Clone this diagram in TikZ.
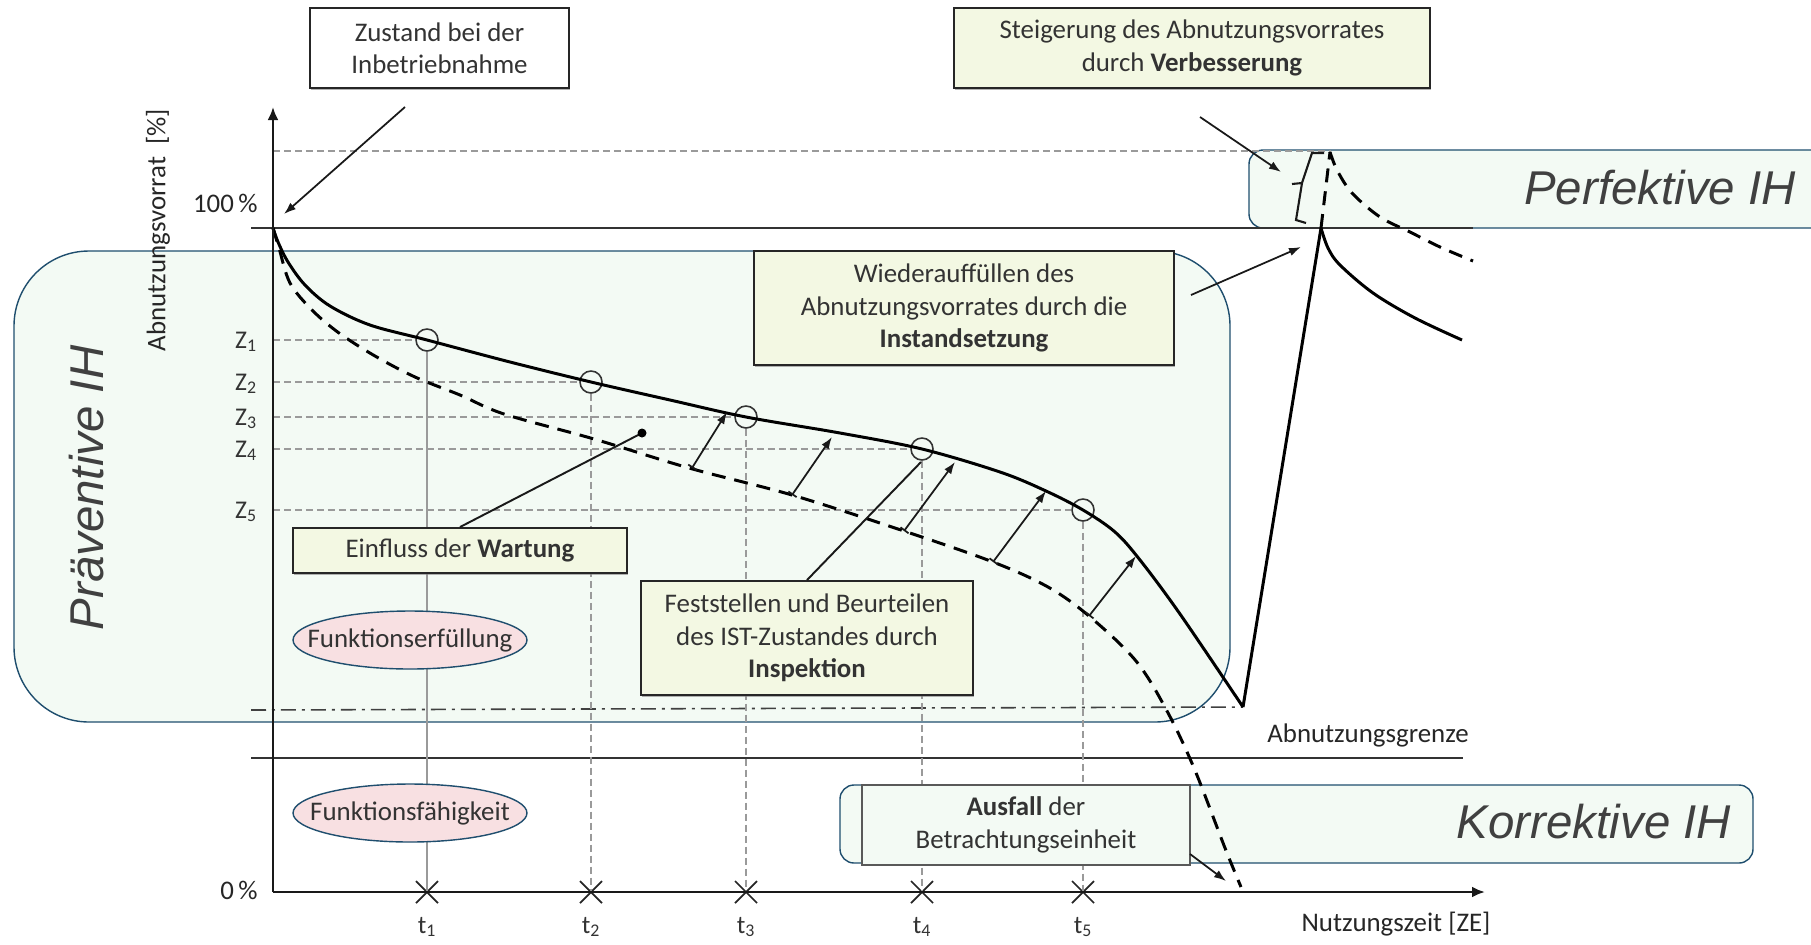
\documentclass[tikz,border=0pt]{standalone}
\usepackage{fontspec}
\setmainfont{Carlito}
\newfontfamily\ihfont{Liberation Sans}
\usetikzlibrary{arrows.meta,shapes.geometric,shadows,calc}
\definecolor{bgGreen}{HTML}{F3FAF4}
\definecolor{ihBorder}{HTML}{1F4E6E}
\definecolor{boxFill}{HTML}{F3F8E3}
\definecolor{pinkFill}{HTML}{F8E0E2}
\definecolor{txt}{HTML}{333333}
\definecolor{ihText}{HTML}{404040}
\definecolor{gridGray}{HTML}{9A9A9A}
\tikzset{
  ihbox/.style={draw=ihBorder, line width=0.8pt, fill=bgGreen},
  plainbox/.style={rectangle, draw=black!85, line width=1.1pt, text=txt, align=center,
    font=\fontsize{15.3}{18.4}\selectfont, inner sep=0pt},
  ybox/.style={plainbox, fill=boxFill,
    drop shadow={shadow xshift=0.6pt, shadow yshift=-1.2pt, opacity=0.6}},
  wbox/.style={ybox, fill=white},
  gbox/.style={plainbox, fill=bgGreen, draw=black!65, line width=1pt},
  ell/.style={ellipse, draw=ihBorder, line width=0.8pt, fill=pinkFill, minimum width=4.68cm,
    minimum height=1.16cm, inner xsep=-0.6cm, inner ysep=0pt, font=\fontsize{15.3}{18}\selectfont, text=txt},
  gridline/.style={gridGray, line width=0.8pt, dash pattern=on 1.4mm off 0.8mm},
  tline/.style={gridGray, line width=0.8pt},
  curve/.style={line width=1.7pt, black},
  dcurve/.style={curve, dash pattern=on 2.8mm off 1.8mm},
  arr/.style={line width=1pt, black!90, -{Latex[length=2.4mm,width=1.7mm]}},
  insp/.style={line width=1pt, black!90, {Bar[width=2mm]}-{Latex[length=2.4mm,width=1.7mm]}},
  lbl/.style={font=\fontsize{15.3}{18}\selectfont, text=black!85, inner sep=0pt},
  sublbl/.style={font=\fontsize{14.5}{16}\selectfont, text=black!80, inner sep=0pt},
  ih/.style={font=\ihfont\itshape\fontsize{27}{30}\selectfont, text=ihText, inner sep=0pt},
  insppt/.style={circle, draw=black!80, line width=0.9pt, minimum size=0.44cm, inner sep=0pt},
}
\begin{document}
\begin{tikzpicture}[x=0.02cm, y=-0.02cm]
\useasboundingbox (0,0) rectangle (1811,944);

% IH regions
\draw[ihbox, rounded corners=1.5cm] (14,251) rectangle (1230,722);
\draw[ihbox, rounded corners=0.28cm] (1249,150) rectangle (1850,228);
\draw[ihbox, rounded corners=0.28cm] (840,785) rectangle (1753,863);
\node[ih, rotate=90] (prae) at (87,488) {Präventive IH};
\node[ih, anchor=base] (perf) at (1660,204) {Perfektive IH};
\node[ih, anchor=base] (korr) at (1594,838) {Korrektive IH};

% key coordinates
\coordinate (O) at (273,228);
\coordinate (V) at (1243,707);
\coordinate (P) at (1321,228);
\coordinate (Ptop) at (1330,152);

% reference lines
\draw[gridline] (273,151) -- (1331,151);
\draw[line width=1.1pt, black!80] (251,228) -- (1473,228);
\draw[line width=1.1pt, black!80] (251,758) -- (1463,758);
\draw[line width=0.9pt, black!75, dash pattern=on 3mm off 1.2mm on 0.6mm off 1.2mm] (251,710) -- (V);

% inspection points, Z levels, t verticals
\foreach \i/\xx/\yy in {1/427/340, 2/591/382, 3/746/417, 4/922/449, 5/1083/510} {
  \node[insppt] (c\i) at (\xx,\yy) {};
  \coordinate (t\i) at (\xx,892);
  \coordinate (z\i) at (273,\yy);
  \draw[gridline] (z\i) -- (c\i.west);
  \node[sublbl, anchor=base] (zl\i) at (246,\yy+8) {Z\textsubscript{\i}};
  \node[sublbl, anchor=base] (tl\i) at (\xx,933) {t\textsubscript{\i}};
  \draw[line width=1pt, black!85] ($(t\i)+(-11,-11)$) -- ($(t\i)+(11,11)$) ($(t\i)+(-11,11)$) -- ($(t\i)+(11,-11)$);
}
\draw[tline] (c1.south) -- (t1);
\foreach \i in {2,3,4,5} \draw[gridline] (c\i.south) -- (t\i);

% curves
\draw[curve] plot[smooth, tension=0.55] coordinates {(273,228) (278,242) (288,262) (305,285) (330,306) (370,325) (427,340) (510,362) (591,382) (670,400) (746,417) (840,433) (922,449) (1000,472) (1046,491) (1083,510) (1115,532) (1140,560) (1180,614) (1243,707)};
\draw[dcurve] plot[smooth, tension=0.55] coordinates {(273,228) (279,248) (290,283) (312,310) (339,333) (375,356) (415,377) (460,395) (504,414) (594,439) (689,468) (792,495) (904,531) (993,562) (1048,587) (1089,616) (1136,661) (1167,711) (1194,768) (1225,848) (1241,887)};
\draw[curve] (V) -- (P);
\draw[curve] plot[smooth, tension=0.55] coordinates {(1321,228) (1328,248) (1340,265) (1373,293) (1415,318) (1462,340)};
\draw[dcurve] (P) -- (Ptop);
\draw[dcurve] plot[smooth, tension=0.55] coordinates {(1330,152) (1337,170) (1352,193) (1380,217) (1410,232) (1440,247) (1473,261)};
% brace
\draw[line width=1.2pt, black!90] (1324,153) -- (1312,153) -- (1302,183) -- (1292,184) (1302,183) -- (1296,220) -- (1306,223);

% axes
\draw[line width=1.6pt, black!90, -{Latex[length=2.6mm,width=2.2mm]}] (273,892) -- (273,107);
\draw[line width=1.6pt, black!90, -{Latex[length=2.6mm,width=2.2mm]}] (273,892) -- (1485,892);
\node[lbl, anchor=base east] (l100) at (258,212) {100\,\%};
\node[lbl, anchor=base east] (l0) at (258,899) {0\,\%};
\node[lbl, rotate=90] (ylab) at (158,230) {Abnutzungsvorrat\ \ [\%]};
\node[lbl, anchor=base] (xlab) at (1396,931) {Nutzungszeit [ZE]};
\node[lbl, anchor=base] (grenze) at (1368,742) {Abnutzungsgrenze};

% inspection arrows
\coordinate (a1s) at (692,468); \coordinate (a1e) at (727,412);
\coordinate (a2s) at (792,495); \coordinate (a2e) at (832,437);
\coordinate (a3s) at (904,531); \coordinate (a3e) at (955,462);
\coordinate (a4s) at (993,562); \coordinate (a4e) at (1046,491);
\coordinate (a5s) at (1089,616); \coordinate (a5e) at (1136,556);
\foreach \i in {1,...,5} \draw[insp] (a\i s) -- (a\i e);

% annotation boxes
\node[wbox, minimum width=5.18cm, minimum height=1.6cm] (zustand) at (439.5,48) {Zustand bei der\\Inbetriebnahme};
\node[ybox, minimum width=9.52cm, minimum height=1.6cm] (steig) at (1192,48) {Steigerung des Abnutzungsvorrates\\durch \textbf{Verbesserung}};
\node[ybox, minimum width=8.4cm, minimum height=2.28cm] (wieder) at (964,308) {Wiederauffüllen des\\Abnutzungsvorrates durch die\\\textbf{Instandsetzung}};
\node[ybox, minimum width=6.68cm, minimum height=0.9cm] (einfluss) at (460,550.5) {Einfluss der \textbf{Wartung}};
\node[ybox, minimum width=6.64cm, minimum height=2.28cm] (fest) at (807,638) {Feststellen und Beurteilen\\des IST-Zustandes durch\\\textbf{Inspektion}};
\node[gbox, minimum width=6.56cm, minimum height=1.6cm] (ausfall) at (1026,825) {\textbf{Ausfall} der\\Betrachtungseinheit};
\node[ell] (erf) at (410,640) {Funktionserfüllung};
\node[ell] (fae) at (410,813) {Funktionsfähigkeit};

% leaders and arrows
\coordinate (zs) at (405,107); \coordinate (ze) at (284,214);
\draw[arr] (zs) -- (ze);
\coordinate (ss) at (1200,117); \coordinate (se) at (1281,172);
\draw[arr] (ss) -- (se);
\coordinate (ws) at (1191,295); \coordinate (we) at (1301,247);
\draw[arr] (ws) -- (we);
\coordinate (as) at (1190,854); \coordinate (ae) at (1226,881);
\draw[arr] (as) -- (ae);
\coordinate (dot) at (642,433);
\draw[line width=1.1pt, black!90] (einfluss.north) -- (dot);
\fill[black] (dot) circle[radius=0.09cm];
\coordinate (fe) at (921,462);
\draw[line width=1.1pt, black!90] (fest.north) -- (fe);
\end{tikzpicture}
\end{document}
